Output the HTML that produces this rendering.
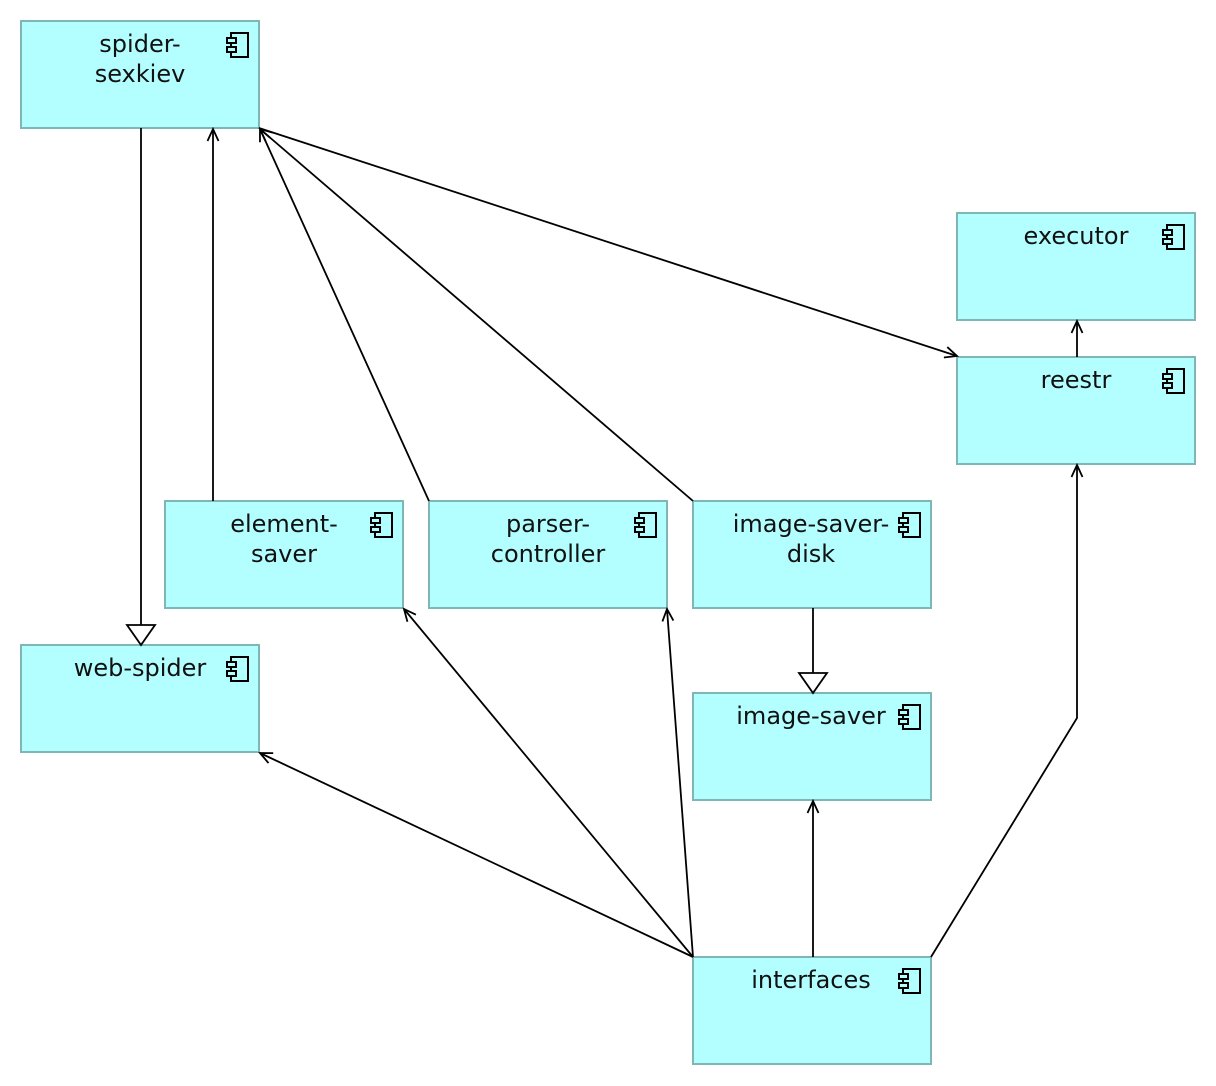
<!DOCTYPE html>
<html><head><meta charset="utf-8"><style>
html,body{margin:0;padding:0;background:#fff;}
svg{display:block;}
text{font-family:"DejaVu Sans","Liberation Sans",sans-serif;font-size:24px;fill:#111;}
</style></head><body>
<svg width="1216" height="1086" viewBox="0 0 1216 1086" xmlns="http://www.w3.org/2000/svg">
<defs>
<marker id="a" viewBox="-14 -8 16 16" refX="0" refY="0" markerWidth="16" markerHeight="16" markerUnits="userSpaceOnUse" orient="auto">
<path d="M-12,-5.5 L0,0 L-12,5.5" fill="none" stroke="#000" stroke-width="1.8"/>
</marker>
<symbol id="ic" viewBox="0 0 24 26">
<rect x="5" y="1" width="17" height="24" fill="none" stroke="#000" stroke-width="2"/>
<rect x="1" y="6" width="9" height="5" fill="#b3ffff" stroke="#000" stroke-width="2"/>
<rect x="1" y="15" width="9" height="5" fill="#b3ffff" stroke="#000" stroke-width="2"/>
</symbol>
</defs>
<g fill="#b3ffff" stroke="#7fb6b6" stroke-width="2">
<rect x="21" y="21" width="238" height="107"/>
<rect x="957" y="213" width="238" height="107"/>
<rect x="957" y="357" width="238" height="107"/>
<rect x="165" y="501" width="238" height="107"/>
<rect x="429" y="501" width="238" height="107"/>
<rect x="693" y="501" width="238" height="107"/>
<rect x="21" y="645" width="238" height="107"/>
<rect x="693" y="693" width="238" height="107"/>
<rect x="693" y="957" width="238" height="107"/>
</g>
<g>
<use href="#ic" x="226" y="32" width="24" height="26"/>
<use href="#ic" x="1162" y="224" width="24" height="26"/>
<use href="#ic" x="1162" y="368" width="24" height="26"/>
<use href="#ic" x="370" y="512" width="24" height="26"/>
<use href="#ic" x="634" y="512" width="24" height="26"/>
<use href="#ic" x="898" y="512" width="24" height="26"/>
<use href="#ic" x="226" y="656" width="24" height="26"/>
<use href="#ic" x="898" y="704" width="24" height="26"/>
<use href="#ic" x="898" y="968" width="24" height="26"/>
</g>
<g text-anchor="middle">
<text x="140" y="52">spider-</text><text x="140" y="82">sexkiev</text>
<text x="1076" y="244">executor</text>
<text x="1076" y="388">reestr</text>
<text x="284" y="532">element-</text><text x="284" y="562">saver</text>
<text x="548" y="532">parser-</text><text x="548" y="562">controller</text>
<text x="811" y="532">image-saver-</text><text x="811" y="562">disk</text>
<text x="140" y="676">web-spider</text>
<text x="811" y="724">image-saver</text>
<text x="811" y="988">interfaces</text>
</g>
<g stroke="#000" stroke-width="1.8" fill="none">
<line x1="141" y1="128" x2="141" y2="625"/>
<path d="M127,625 L155,625 L141,645 Z" fill="#fff"/>
<line x1="813" y1="608" x2="813" y2="673"/>
<path d="M799,673 L827,673 L813,693 Z" fill="#fff"/>
<line x1="213" y1="501" x2="213" y2="129" marker-end="url(#a)"/>
<line x1="429" y1="501" x2="260" y2="129" marker-end="url(#a)"/>
<line x1="693" y1="501" x2="260" y2="129" marker-end="url(#a)"/>
<line x1="259" y1="128" x2="957" y2="356" marker-end="url(#a)"/>
<line x1="1077" y1="357" x2="1077" y2="321" marker-end="url(#a)"/>
<line x1="693" y1="957" x2="260" y2="753" marker-end="url(#a)"/>
<line x1="693" y1="957" x2="404" y2="609" marker-end="url(#a)"/>
<line x1="693" y1="957" x2="667" y2="609" marker-end="url(#a)"/>
<line x1="813" y1="957" x2="813" y2="801" marker-end="url(#a)"/>
<polyline points="931,957 1077,718 1077,465" marker-end="url(#a)"/>
</g>
</svg>
</body></html>
